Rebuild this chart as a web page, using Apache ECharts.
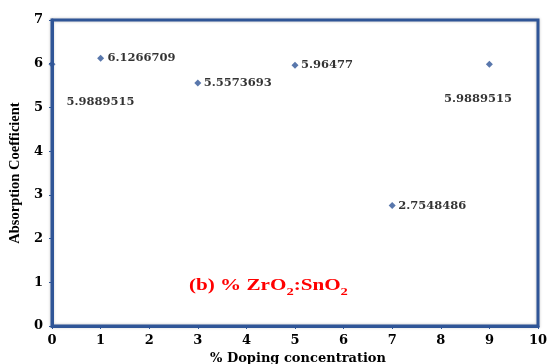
<!DOCTYPE html>
<html><head><meta charset="utf-8">
<script src="https://cdn.jsdelivr.net/npm/echarts@6/dist/echarts.min.js"></script>
<style>html,body{margin:0;padding:0;background:#fff}#c{width:550px;height:364px}</style>
</head><body><div id="c"></div>
<script>
var xValues = [0, 1, 3, 5, 7, 9];
var yValues = [5.9889515, 6.1266709, 5.5573693, 5.96477, 2.7548486, 5.9889515];
var labelTexts = ['5.9889515', '6.1266709', '5.5573693', '5.96477', '2.7548486', '5.9889515'];
var xTicks = [0,1,2,3,4,5,6,7,8,9,10];
var yTicks = [0,1,2,3,4,5,6,7];

var serif = '"Liberation Serif", "Times New Roman", serif';
var wideSerif = '"DejaVu Serif", serif';
var blue = '#2F5597';
var labelPos = [[6, 38], [-1.5, 0], [-2.5, 0], [-2.5, 0], [-2.5, 0], [-54, 35]];
var data = xValues.map(function (x, i) {
  return {
    value: [x, yValues[i]],
    label: {
      show: true, formatter: labelTexts[i],
      position: 'right', offset: labelPos[i]
    }
  };
});

var chart = echarts.init(document.getElementById('c'));
chart.setOption({
  animation: false,
  backgroundColor: '#fff',
  grid: { left: 52, right: 12, top: 20, bottom: 38, containLabel: false, outerBoundsMode: 'none',
    show: true, borderColor: blue, borderWidth: 3,
    shadowColor: 'rgba(0,0,0,0.25)', shadowBlur: 3 },
  xAxis: {
    type: 'value', min: 0, max: 10, interval: 1,
    name: '% Doping concentration', nameLocation: 'middle', nameGap: 22,
    nameTextStyle: { fontFamily: wideSerif, fontWeight: 'bold', fontSize: 13, color: '#000', padding: [0, 0, 0, 6] },
    axisLine: { show: true, lineStyle: { color: blue, width: 3 } },
    axisTick: { show: true, length: 3, lineStyle: { color: blue } },
    splitLine: { show: false },
    axisLabel: { fontFamily: wideSerif, fontWeight: 'bold', fontSize: 13, color: '#000', margin: 8,
      formatter: function (v) { return xTicks.indexOf(v) >= 0 ? String(v) : ''; } }
  },
  yAxis: {
    type: 'value', min: 0, max: 7, interval: 1,
    name: 'Absorption Coefficient', nameLocation: 'middle', nameGap: 26,
    nameTextStyle: { fontFamily: serif, fontWeight: 'bold', fontSize: 14.5, color: '#000' },
    axisLine: { show: true, lineStyle: { color: blue, width: 3 } },
    axisTick: { show: true, length: 3, lineStyle: { color: blue } },
    splitLine: { show: false },
    axisLabel: { fontFamily: wideSerif, fontWeight: 'bold', fontSize: 13, color: '#000', margin: 9,
      formatter: function (v) { return yTicks.indexOf(v) >= 0 ? String(v) : ''; } }
  },
  series: [{
    type: 'scatter', symbol: 'diamond', symbolSize: 7,
    itemStyle: { color: blue },
    label: { fontFamily: wideSerif, fontWeight: 'bold', fontSize: 11.5, color: '#000' },
    data: data
  }],
  graphic: [{
    type: 'text', x: 189, y: 276, scaleX: 1.32, originX: 0,
    style: {
      text: '{m|(b) % ZrO}{s|2}{m|:SnO}{s|2}',
      rich: {
        m: { fontFamily: serif, fontWeight: 'bold', fontSize: 16, fill: '#FF0000', verticalAlign: 'bottom', lineHeight: 18 },
        s: { fontFamily: serif, fontWeight: 'bold', fontSize: 11, fill: '#FF0000', verticalAlign: 'bottom', padding: [0,0,-4,0], lineHeight: 18 }
      }
    }
  }]
});
</script></body></html>
